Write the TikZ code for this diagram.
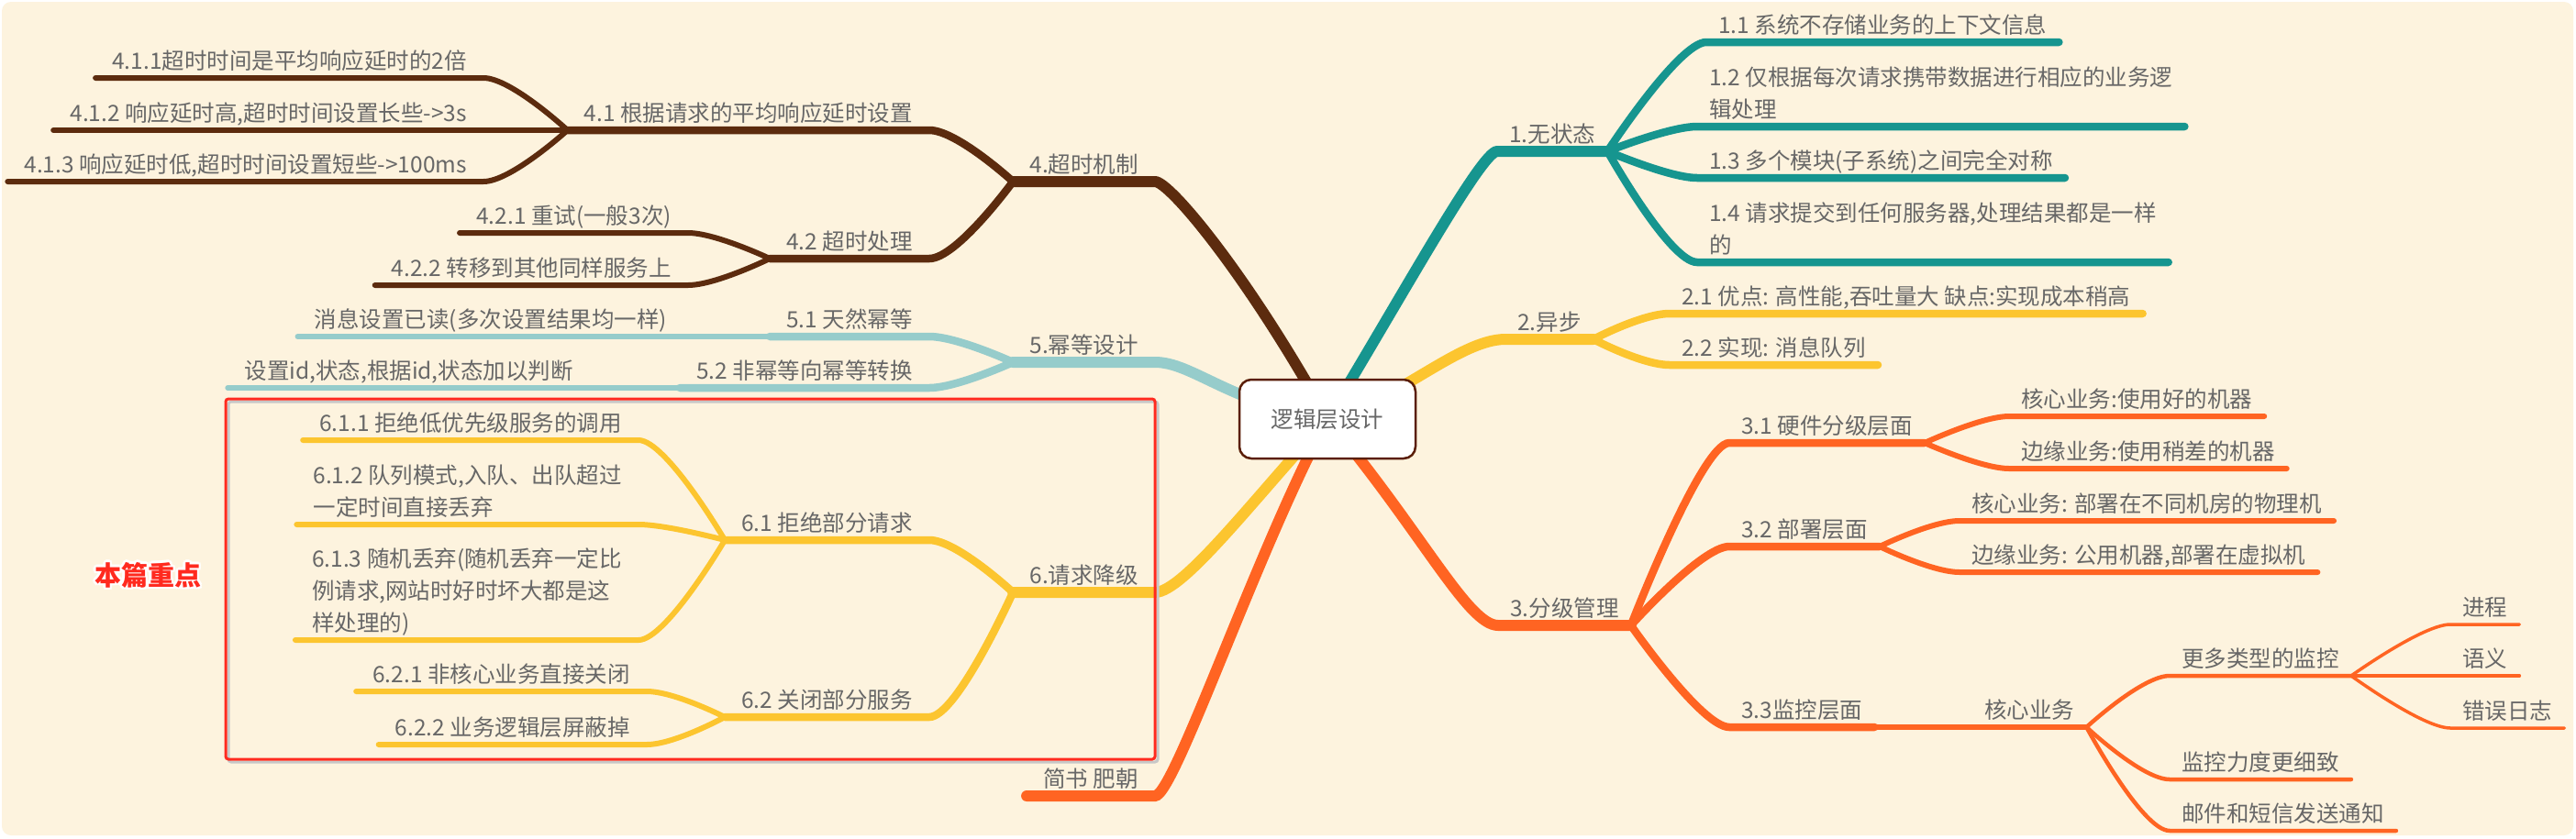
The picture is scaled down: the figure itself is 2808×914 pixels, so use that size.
\documentclass[tikz,border=0pt]{standalone}
\usepackage{fontspec}
\setmainfont{Noto Sans CJK SC}
\definecolor{bgc}{HTML}{FDF3DE}
\definecolor{txt}{HTML}{676767}
\definecolor{tealb}{HTML}{16958F}
\definecolor{yelb}{HTML}{FCC52F}
\definecolor{orab}{HTML}{FF6422}
\definecolor{brob}{HTML}{5C2B0E}
\definecolor{blub}{HTML}{96CCCB}
\definecolor{redb}{HTML}{FF2A1F}
\definecolor{rootbd}{HTML}{5A1E08}

\begin{document}
\begin{tikzpicture}[x=1pt,y=-1pt,
  rt/.style={anchor=south west,inner xsep=13pt,inner ysep=9pt,text depth=0pt,
    align=left,text=txt,font=\fontsize{24.5}{35}\selectfont},
  lt/.style={rt,anchor=south east,inner xsep=18pt},
  l1/.style={line width=12pt,line cap=round},
  l2/.style={line width=8.5pt,line cap=round},
  l3/.style={line width=6pt,line cap=round},
  l4/.style={line width=4.5pt,line cap=round},
  l5/.style={line width=3.5pt,line cap=round},
  halo/.style={text=white,font=\bfseries\fontsize{29}{30}\selectfont}]
\useasboundingbox (0,0) rectangle (2808,914);
\fill[white] (0,0) rectangle (2808,914);
\fill[bgc,rounded corners=10pt] (2,2) rectangle (2805,911);

\coordinate (rootc) at (1447,457);

% right side
\node[rt] (n1) at (1632,165) {1.无状态};
\node[rt] (n11) at (1860,46) {1.1 系统不存储业务的上下文信息};
\node[rt] (n12) at (1850,138) {1.2 仅根据每次请求携带数据进行相应的业务逻\\辑处理};
\node[rt] (n13) at (1850,194) {1.3 多个模块(子系统)之间完全对称};
\node[rt] (n14) at (1850,286) {1.4 请求提交到任何服务器,处理结果都是一样\\的};
\node[rt] (n2) at (1641,370) {2.异步};
\node[rt] (n21) at (1820,342) {2.1 优点: 高性能,吞吐量大 缺点:实现成本稍高};
\node[rt] (n22) at (1820,398) {2.2 实现: 消息队列};
\node[rt] (n3) at (1633,682) {3.分级管理};
\node[rt] (n31) at (1885,483) {3.1 硬件分级层面};
\node[rt] (n311) at (2190,454) {核心业务:使用好的机器};
\node[rt] (n312) at (2190,511) {边缘业务:使用稍差的机器};
\node[rt] (n32) at (1885,596) {3.2 部署层面};
\node[rt] (n321) at (2136,568) {核心业务: 部署在不同机房的物理机};
\node[rt] (n322) at (2136,624) {边缘业务: 公用机器,部署在虚拟机};
\node[rt] (n33) at (1885,793) {3.3监控层面};
\node[rt] (n331) at (2150,793) {核心业务};
\node[rt] (n3311) at (2365,737) {更多类型的监控};
\node[rt] (n3312) at (2365,850) {监控力度更细致};
\node[rt] (n3313) at (2365,906) {邮件和短信发送通知};
\node[rt] (jinch) at (2671,681) {进程};
\node[rt] (yuyi) at (2671,737) {语义};
\node[rt] (cuowu) at (2671,794) {错误日志};

% left side
\node[lt] (n4) at (1259,198) {4.超时机制};
\node[lt] (n41) at (1013,142) {4.1 根据请求的平均响应延时设置};
\node[lt] (n411) at (527,85) {4.1.1超时时间是平均响应延时的2倍};
\node[lt] (n412) at (527,142) {4.1.2 响应延时高,超时时间设置长些->3s};
\node[lt] (n413) at (527,198) {4.1.3 响应延时低,超时时间设置短些->100ms};
\node[lt] (n42) at (1013,282) {4.2 超时处理};
\node[lt] (n421) at (750,254) {4.2.1 重试(一般3次)};
\node[lt] (n422) at (750,311) {4.2.2 转移到其他同样服务上};
\node[lt] (n5) at (1259,395) {5.幂等设计};
\node[lt] (n51) at (1013,367) {5.1 天然幂等};
\node[lt] (n511) at (745,367) {消息设置已读(多次设置结果均一样)};
\node[lt] (n52) at (1013,423) {5.2 非幂等向幂等转换};
\node[lt] (n521) at (643,423) {设置id,状态,根据id,状态加以判断};
\node[lt] (n6) at (1259,646) {6.请求降级};
\node[lt] (n61) at (1013,589) {6.1 拒绝部分请求};
\node[lt] (n611) at (696,480) {6.1.1 拒绝低优先级服务的调用};
\node[lt] (n612) at (696,572) {6.1.2 队列模式,入队、出队超过\\一定时间直接丢弃};
\node[lt] (n613) at (696,698) {6.1.3 随机丢弃(随机丢弃一定比\\例请求,网站时好时坏大都是这\\样处理的)};
\node[lt] (n62) at (1013,782) {6.2 关闭部分服务};
\node[lt] (n621) at (705,754) {6.2.1 非核心业务直接关闭};
\node[lt] (n622) at (705,812) {6.2.2 业务逻辑层屏蔽掉};
\node[lt] (n7) at (1259,868) {简书 肥朝};

% branches
\draw[l1,tealb] (rootc) .. controls (1530,320) and (1615,165) .. (n1.south west) -- (n1.south east);
\draw[l2,tealb] (n1.south east) .. controls +(0,0) and +(-30,0) .. (n11.south west) -- (n11.south east);
\draw[l2,tealb] (n1.south east) .. controls +(0,0) and +(-30,0) .. (n12.south west) -- (n12.south east);
\draw[l2,tealb] (n1.south east) .. controls +(0,0) and +(-30,0) .. (n13.south west) -- (n13.south east);
\draw[l2,tealb] (n1.south east) .. controls +(0,0) and +(-30,0) .. (n14.south west) -- (n14.south east);

\draw[l1,yelb] (rootc) .. controls (1520,440) and (1590,370) .. (n2.south west) -- (n2.south east);
\draw[l2,yelb] (n2.south east) .. controls +(0,0) and +(-30,0) .. (n21.south west) -- (n21.south east);
\draw[l2,yelb] (n2.south east) .. controls +(0,0) and +(-30,0) .. (n22.south west) -- (n22.south east);

\draw[l1,orab] (rootc) .. controls (1550,580) and (1600,682) .. (n3.south west) -- (n3.south east);
\draw[l2,orab] (n3.south east) .. controls +(0,0) and +(-30,0) .. (n31.south west) -- (n31.south east);
\draw[l2,orab] (n3.south east) .. controls +(0,0) and +(-30,0) .. (n32.south west) -- (n32.south east);
\draw[l2,orab] (n3.south east) .. controls +(0,0) and +(-30,0) .. (n33.south west) -- (n33.south east);
\draw[l3,orab] (n31.south east) .. controls +(0,0) and +(-30,0) .. (n311.south west) -- (n311.south east);
\draw[l3,orab] (n31.south east) .. controls +(0,0) and +(-30,0) .. (n312.south west) -- (n312.south east);
\draw[l3,orab] (n32.south east) .. controls +(0,0) and +(-30,0) .. (n321.south west) -- (n321.south east);
\draw[l3,orab] (n32.south east) .. controls +(0,0) and +(-30,0) .. (n322.south west) -- (n322.south east);
\draw[l3,orab] (n33.south east) -- (n331.south west) -- (n331.south east);
\draw[l4,orab] (n331.south east) .. controls +(0,0) and +(-30,0) .. (n3311.south west) -- (n3311.south east);
\draw[l4,orab] (n331.south east) .. controls +(0,0) and +(-30,0) .. (n3312.south west) -- (n3312.south east);
\draw[l4,orab] (n331.south east) .. controls +(0,0) and +(-30,0) .. (n3313.south west) -- (n3313.south east);
\draw[l5,orab] (n3311.south east) .. controls +(0,0) and +(-30,0) .. (jinch.south west) -- (jinch.south east);
\draw[l5,orab] (n3311.south east) .. controls +(0,0) and +(-30,0) .. (yuyi.south west) -- (yuyi.south east);
\draw[l5,orab] (n3311.south east) .. controls +(0,0) and +(-30,0) .. (cuowu.south west) -- (cuowu.south east);

\draw[l1,brob] (rootc) .. controls (1360,300) and (1275,198) .. (n4.south east) -- (n4.south west);
\draw[l2,brob] (n4.south west) .. controls +(0,0) and +(30,0) .. (n41.south east) -- (n41.south west);
\draw[l2,brob] (n4.south west) .. controls +(0,0) and +(30,0) .. (n42.south east) -- (n42.south west);
\draw[l3,brob] (n41.south west) .. controls +(0,0) and +(30,0) .. (n411.south east) -- (n411.south west);
\draw[l3,brob] (n41.south west) -- (n412.south east) -- (n412.south west);
\draw[l3,brob] (n41.south west) .. controls +(0,0) and +(30,0) .. (n413.south east) -- (n413.south west);
\draw[l3,brob] (n42.south west) .. controls +(0,0) and +(30,0) .. (n421.south east) -- (n421.south west);
\draw[l3,brob] (n42.south west) .. controls +(0,0) and +(30,0) .. (n422.south east) -- (n422.south west);

\draw[l1,blub] (rootc) .. controls (1340,440) and (1300,395) .. (n5.south east) -- (n5.south west);
\draw[l2,blub] (n5.south west) .. controls +(0,0) and +(30,0) .. (n51.south east) -- (n51.south west);
\draw[l2,blub] (n5.south west) .. controls +(0,0) and +(30,0) .. (n52.south east) -- (n52.south west);
\draw[l3,blub] (n51.south west) -- (n511.south east) -- (n511.south west);
\draw[l3,blub] (n52.south west) -- (n521.south east) -- (n521.south west);

\draw[l1,yelb] (rootc) .. controls (1370,540) and (1290,646) .. (n6.south east) -- (n6.south west);
\draw[l2,yelb] (n6.south west) .. controls +(0,0) and +(30,0) .. (n61.south east) -- (n61.south west);
\draw[l2,yelb] (n6.south west) .. controls +(0,0) and +(30,0) .. (n62.south east) -- (n62.south west);
\draw[l3,yelb] (n61.south west) .. controls +(0,0) and +(30,0) .. (n611.south east) -- (n611.south west);
\draw[l3,yelb] (n61.south west) .. controls +(0,0) and +(30,0) .. (n612.south east) -- (n612.south west);
\draw[l3,yelb] (n61.south west) .. controls +(0,0) and +(30,0) .. (n613.south east) -- (n613.south west);
\draw[l3,yelb] (n62.south west) .. controls +(0,0) and +(30,0) .. (n621.south east) -- (n621.south west);
\draw[l3,yelb] (n62.south west) .. controls +(0,0) and +(30,0) .. (n622.south east) -- (n622.south west);

\draw[l1,orab] (rootc) .. controls (1370,600) and (1280,868) .. (n7.south east) -- (n7.south west);

% root topic
\node[draw=rootbd,line width=2.5pt,fill=white,rounded corners=13pt,minimum width=192pt,
  minimum height=86pt,text=txt,font=\fontsize{24.5}{30}\selectfont] (root) at (rootc) {逻辑层设计};

% highlighted part
\draw[black!22,line width=3pt,rounded corners=3pt] (249,438) rectangle (1262,831);
\draw[redb,line width=3pt,rounded corners=3pt] (246,435) rectangle (1259,828);
\node[halo] (zd1) at (163.5,627) {本篇重点};
\node[halo] (zd2) at (158.5,627) {本篇重点};
\node[halo] (zd3) at (161,624.5) {本篇重点};
\node[halo] (zd4) at (161,629.5) {本篇重点};
\node[halo] (zd5) at (163,625) {本篇重点};
\node[halo] (zd6) at (159,625) {本篇重点};
\node[halo] (zd7) at (163,629) {本篇重点};
\node[halo] (zd8) at (159,629) {本篇重点};
\node[halo,text=redb] (zd) at (161,627) {本篇重点};
\end{tikzpicture}
\end{document}
